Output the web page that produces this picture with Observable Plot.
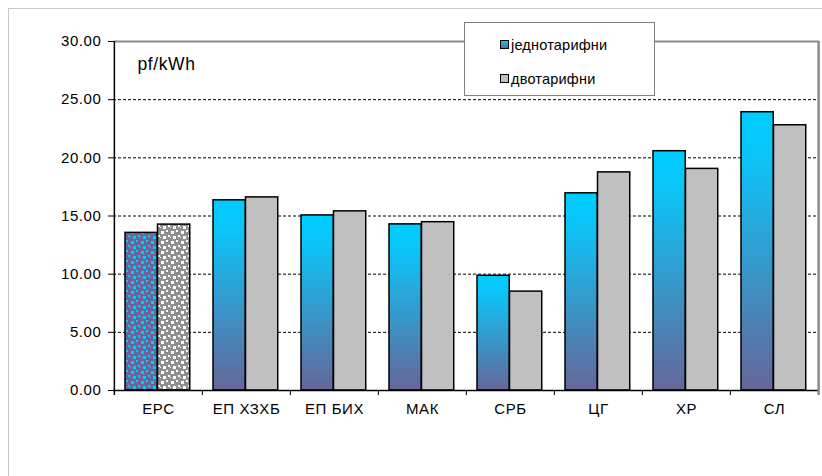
<!DOCTYPE html>
<html><head><meta charset="utf-8">
<script src="https://cdn.jsdelivr.net/npm/d3@7"></script>
<script src="https://cdn.jsdelivr.net/npm/@observablehq/plot@0.6"></script>
<style>
body{margin:0;background:#fff;font-family:"Liberation Sans",Arial,sans-serif;}
#wrap{position:relative;width:822px;height:476px;overflow:hidden;}
#outer{position:absolute;left:8px;top:8px;width:900px;height:600px;border-left:1px solid #c8c8c8;border-top:1px solid #c8c8c8;}
#chart{position:absolute;left:0;top:0;}
#chart svg text{letter-spacing:0.6px;}
#legend{position:absolute;left:464px;top:22px;width:191px;height:74px;background:#fff;border:1.5px solid #808080;box-sizing:border-box;}
.item{position:absolute;left:35px;font-size:14.5px;letter-spacing:0.2px;color:#000;line-height:16px;white-space:nowrap;}
.sw{display:inline-block;width:7px;height:7px;border:1.5px solid #000;margin-right:2px;vertical-align:1px;}
</style></head>
<body>
<div id="wrap">
  <div id="outer"></div>
  <div id="chart"></div>
  <div id="legend"></div>
</div>
<script>
const categories = ["ЕРС", "ЕП ХЗХБ", "ЕП БИХ", "МАК", "СРБ", "ЦГ", "ХР", "СЛ"];
const seriesNames = ["једнотарифни", "двотарифни"];
const single = [13.55, 16.35, 15.05, 14.28, 9.86, 16.95, 20.57, 23.92];
const dual   = [14.26, 16.6, 15.4, 14.47, 8.5, 18.75, 19.05, 22.8];
const yTicks = [0, 5, 10, 15, 20, 25, 30];
const unitLabel = "pf/kWh";

const W = 822, H = 476, ML = 113, MR = 3, MT = 41, MB = 86;
const step = (W - ML - MR) / categories.length;
const padL = 11, barW = 32.5;

function tile(d, id, bg, fg) {
  const p = d.append("pattern").attr("id", id).attr("patternUnits", "userSpaceOnUse")
    .attr("width", 10).attr("height", 10);
  p.append("rect").attr("width", 10).attr("height", 10).attr("fill", bg);
  [[1, 1, 3], [6, 0, 2], [3, 6, 3], [8, 5, 2], [0, 7, 1]].forEach(([x, y, s]) =>
    p.append("rect").attr("x", x).attr("y", y).attr("width", s).attr("height", s).attr("fill", fg));
}

function defs() {
  const d = d3.create("svg:defs");
  const g = d.append("linearGradient").attr("id", "gBlue")
    .attr("x1", 0).attr("y1", 0).attr("x2", 0).attr("y2", 1);
  g.append("stop").attr("offset", "0%").attr("stop-color", "#00CCFF");
  g.append("stop").attr("offset", "12%").attr("stop-color", "#08C8FB");
  g.append("stop").attr("offset", "100%").attr("stop-color", "#666699");
  tile(d, "pBlue", "#666699", "#00CCFF");
  tile(d, "pGray", "#8f8f8f", "#ffffff");
  return d.node();
}

const idx = categories.map((c, i) => i);
const first = idx.filter(i => i === 0);
const rest = idx.filter(i => i > 0);

const plot = Plot.plot({
  width: W, height: H,
  marginLeft: ML, marginRight: MR, marginTop: MT, marginBottom: MB,
  style: {fontFamily: "'Liberation Sans', Arial, sans-serif", fontSize: "15px", color: "#000", background: "transparent", overflow: "visible"},
  x: {domain: categories, padding: 0, label: null, tickSize: 0, tickPadding: 13},
  y: {domain: [0, 30], ticks: 6, label: null, tickSize: 5, tickPadding: 7, tickFormat: d => d.toFixed(2)},
  marks: [
    defs,
    Plot.ruleY(yTicks.filter(t => t > 0 && t < 30), {stroke: "#000", strokeWidth: 1, strokeDasharray: "3,2"}),
    Plot.ruleY([30], {stroke: "#8c8c8c", strokeWidth: 2}),
    // blue bars
    Plot.barY(rest, {x: i => categories[i], y: i => single[i], fill: "url(#gBlue)", stroke: "#000", strokeWidth: 1.5,
      insetLeft: padL, insetRight: step - padL - barW}),
    Plot.barY(first, {x: i => categories[i], y: i => single[i], fill: "url(#pBlue)", stroke: "#000", strokeWidth: 1.5,
      insetLeft: padL, insetRight: step - padL - barW}),
    // gray bars
    Plot.barY(rest, {x: i => categories[i], y: i => dual[i], fill: "#C0C0C0", stroke: "#000", strokeWidth: 1.5,
      insetLeft: padL + barW, insetRight: step - padL - 2 * barW}),
    Plot.barY(first, {x: i => categories[i], y: i => dual[i], fill: "url(#pGray)", stroke: "#000", strokeWidth: 1.5,
      insetLeft: padL + barW, insetRight: step - padL - 2 * barW}),
    // axes lines and boundary ticks
    Plot.ruleY([0], {stroke: "#000", strokeWidth: 1.5}),
    Plot.ruleX(categories.slice(1), {x: d => d, dx: -step / 2, y1: 0, y2: 0, insetBottom: -5, stroke: "#000", strokeWidth: 1}),
    Plot.ruleX(categories.slice(0, 1), {x: d => d, dx: -step / 2, insetBottom: -5, stroke: "#000", strokeWidth: 1.5}),
    Plot.ruleX(categories.slice(-1), {x: d => d, dx: step / 2, insetBottom: -5, stroke: "#8c8c8c", strokeWidth: 2.5}),
    Plot.text([unitLabel], {frameAnchor: "top-left", dx: 24, dy: 16, text: d => d, fontSize: 17.5, textAnchor: "start"})
  ]
});
document.getElementById("chart").appendChild(plot);

const legend = document.getElementById("legend");
const swatches = ["linear-gradient(#00CCFF, #666699)", "#C0C0C0"];
seriesNames.forEach((name, i) => {
  const it = document.createElement("div");
  it.className = "item";
  it.style.top = (i === 0 ? 14 : 48) + "px";
  const sw = document.createElement("span");
  sw.className = "sw";
  sw.style.background = swatches[i];
  it.appendChild(sw);
  it.appendChild(document.createTextNode(name));
  legend.appendChild(it);
});
</script>
</body></html>
